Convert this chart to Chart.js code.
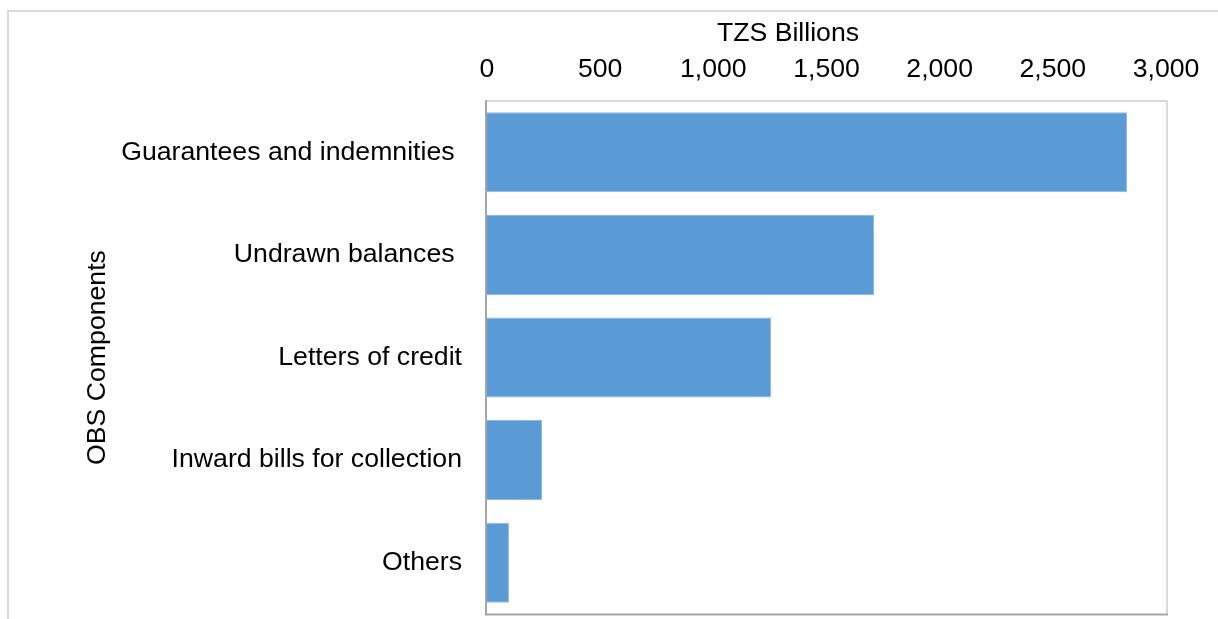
<!DOCTYPE html>
<html><head><meta charset="utf-8">
<script src="https://cdn.jsdelivr.net/npm/chart.js@4/dist/chart.umd.min.js"></script>
<style>
html,body{margin:0;padding:0;background:#fff;overflow:hidden}
#frame{position:absolute;left:7px;top:10px;width:1300px;height:700px;border-left:2px solid #D9D9D9;border-top:2px solid #D9D9D9}
#wrap{position:absolute;left:0;top:0;width:1218px;height:619px}
</style></head><body>
<div id="frame"></div>
<div id="wrap"><canvas id="c" width="1218" height="619"></canvas></div>
<script>
const categories = ["Guarantees and indemnities ", "Undrawn balances ", "Letters of credit", "Inward bills for collection", "Others"];
const values = [2828, 1710, 1255, 243, 97];
const xTickValues = [0, 500, 1000, 1500, 2000, 2500, 3000];
const xAxisTitle = "TZS Billions";
const yAxisTitle = "OBS Components";

const FONT = '"Liberation Sans", Arial, sans-serif';
const FS = 26.67;

const framePlugin = {
  id: 'frameLines',
  afterDatasetsDraw(chart) {
    const {ctx, chartArea: a} = chart;
    ctx.save();
    ctx.lineWidth = 2;
    ctx.strokeStyle = '#D9D9D9';
    ctx.beginPath();
    ctx.moveTo(a.left - 2, a.top); ctx.lineTo(a.right + 2, a.top);
    ctx.moveTo(a.right + 1, a.top); ctx.lineTo(a.right + 1, a.bottom);
    ctx.stroke();
    ctx.strokeStyle = '#A6A6A6';
    ctx.beginPath();
    ctx.moveTo(a.left - 1, a.top - 1); ctx.lineTo(a.left - 1, a.bottom + 1.5);
    ctx.moveTo(a.left - 2, a.bottom + 0.5); ctx.lineTo(a.right + 2, a.bottom + 0.5);
    ctx.stroke();
    ctx.restore();
  },
  afterDraw(chart) {
    const {ctx} = chart;
    ctx.save();
    ctx.font = FS + 'px ' + FONT;
    ctx.fillStyle = '#000';
    ctx.textAlign = 'center';
    ctx.textBaseline = 'middle';
    ctx.fillText(xAxisTitle, 788, 34);
    ctx.restore();
  }
};

new Chart(document.getElementById('c'), {
  type: 'bar',
  data: {
    labels: categories,
    datasets: [{
      data: values,
      backgroundColor: '#5B9BD5',
      borderColor: '#8DB9E3',
      borderWidth: 1,
      barPercentage: 0.78,
      categoryPercentage: 1
    }]
  },
  options: {
    indexAxis: 'y',
    responsive: false,
    animation: false,
    events: [],
    layout: { padding: { left: 0, right: 52, top: 0, bottom: 5 } },
    plugins: { legend: { display: false }, tooltip: { enabled: false }, title: { display: false } },
    scales: {
      x: {
        position: 'top',
        min: 0, max: 3000,
        afterBuildTicks(scale) { scale.ticks = xTickValues.map(v => ({value: v})); },
        afterFit(scale) { scale.height = 101; scale.paddingLeft = 0; scale.paddingRight = 0; },
        grid: { display: false, drawTicks: false },
        border: { display: false },
        ticks: {
          padding: 15,
          color: '#000',
          font: { family: FONT, size: FS },
          callback: v => Number(v).toLocaleString('en-US'),
          maxRotation: 0, autoSkip: false
        }
      },
      y: {
        afterFit(scale) { scale.width = 487; scale.paddingTop = 0; scale.paddingBottom = 0; },
        grid: { display: false, drawTicks: false },
        border: { display: false },
        ticks: { padding: 25, color: '#000', font: { family: FONT, size: FS } },
        title: { display: true, text: yAxisTitle, color: '#000', font: { family: FONT, size: FS }, padding: { top: 82, bottom: 0 } }
      }
    }
  },
  plugins: [framePlugin]
});
</script>
</body></html>
